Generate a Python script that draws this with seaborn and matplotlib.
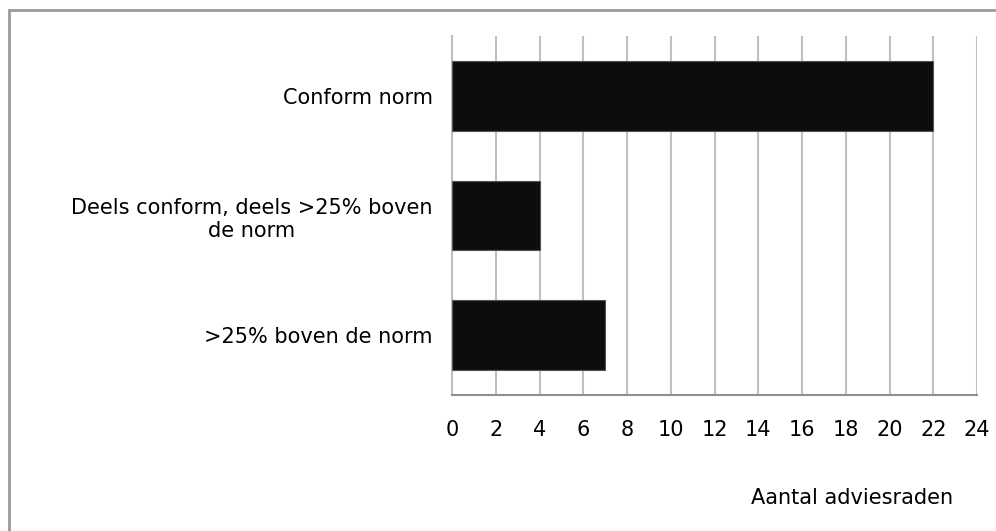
import numpy as np
import pandas as pd
import matplotlib
matplotlib.use("Agg")
import matplotlib.pyplot as plt
import seaborn as sns
from matplotlib.lines import Line2D

# data
categories = ["Conform norm", "Deels conform, deels >25% boven\nde norm", ">25% boven de norm"]
values = [22, 4, 7]
xticks = list(range(0, 25, 2))

df = pd.DataFrame({"categorie": categories, "aantal": values})

sns.set_style("white")
plt.rcParams['font.family'] = ['DejaVu Sans']
plt.rcParams['text.color'] = 'black'

W, H = 996, 531
fig = plt.figure(figsize=(W / 100, H / 100), dpi=100)
ax = fig.add_axes([452 / W, 1 - 395 / H, (977 - 452) / W, (395 - 36) / H])

sns.barplot(data=df, y="categorie", x="aantal", color="#0d0d0d", width=0.58,
            edgecolor="#555555", linewidth=0.8, saturation=1, ax=ax, zorder=3)

fs = 15
ax.set_xlim(0, 24)
ax.set_xticks(xticks)
ax.set_xticklabels([str(t) for t in xticks], fontsize=fs, color="black")
ax.grid(axis="x", color="#c0c0c0", linewidth=1.5, zorder=0)
ax.set_axisbelow(True)
ax.set_xlabel("")
ax.set_ylabel("")
ax.tick_params(axis="y", length=0, pad=14, labelsize=fs, labelcolor="black")
ax.tick_params(axis="x", length=5, width=1.5, color="#909090", pad=13, direction="out")
for s in ["top", "right"]:
    ax.spines[s].set_visible(False)
ax.spines["left"].set_color("#c0c0c0")
ax.spines["left"].set_linewidth(1.5)
ax.spines["bottom"].set_color("#909090")
ax.spines["bottom"].set_linewidth(1.5)
for lbl in ax.get_yticklabels():
    lbl.set_multialignment("center")

fig.text(852 / W, 1 - 498 / H, "Aantal adviesraden", ha="center", va="center", fontsize=fs)

# outer chart border (top and left visible)
fig.add_artist(Line2D([9 / W, 1], [1 - 10 / H, 1 - 10 / H], transform=fig.transFigure,
                      color="#9a9a9a", linewidth=2))
fig.add_artist(Line2D([9 / W, 9 / W], [0, 1 - 10 / H], transform=fig.transFigure,
                      color="#9a9a9a", linewidth=2))

fig.savefig("out.png", dpi=100)
